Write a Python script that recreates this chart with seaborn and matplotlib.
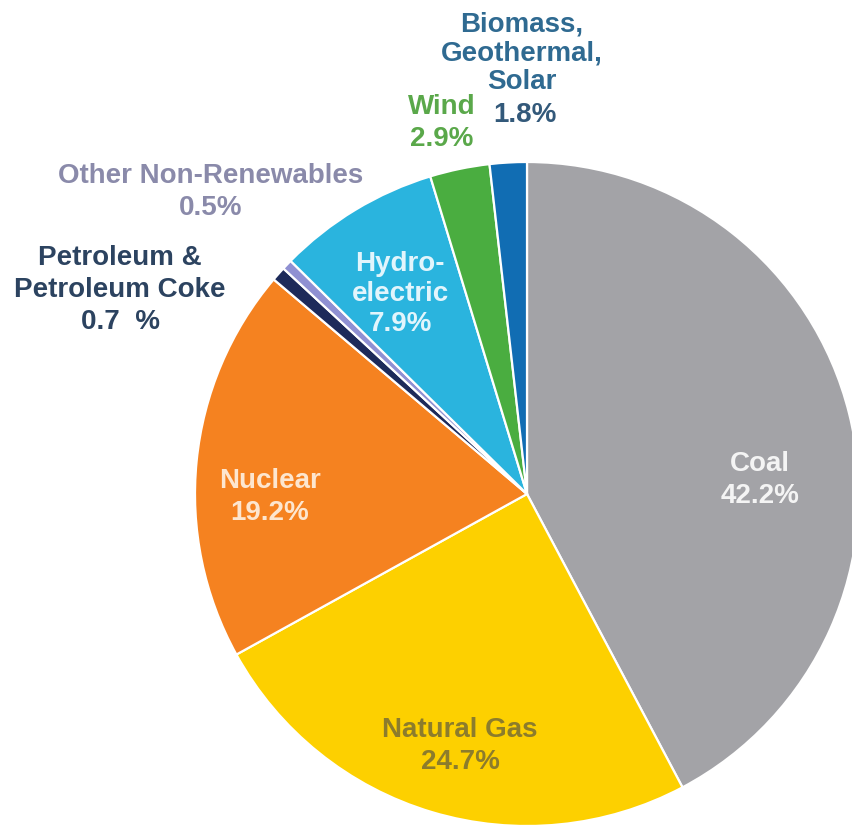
import matplotlib
matplotlib.use("Agg")
import matplotlib.pyplot as plt
import seaborn as sns

# ---- data ----
sources = ["Coal", "Natural Gas", "Nuclear", "Petroleum & Petroleum Coke",
           "Other Non-Renewables", "Hydroelectric", "Wind",
           "Biomass, Geothermal, Solar"]
shares = [42.2, 24.7, 19.2, 0.7, 0.5, 7.9, 2.9, 1.8]
label_texts = ["Coal\n42.2%", "Natural Gas\n24.7%", "Nuclear\n19.2%",
               "Petroleum &\nPetroleum Coke\n0.7  %", "Other Non-Renewables\n0.5%",
               "Hydro-\nelectric\n7.9%", "Wind\n2.9%", "Biomass,\nGeothermal,\nSolar"]
extra_label = "1.8%"

# ---- style ----
wedge_colors = ["#a3a3a7", "#fdd000", "#f58220", "#1d2a5a",
                "#8f90d2", "#2ab4de", "#4aad40", "#116db3"]
text_colors = ["#f4f4f4", "#8c7c2c", "#fde6cf", "#2c4360",
               "#8a8aaa", "#e2f5fc", "#5aa84a", "#2f6a91"]
# label centres in pixel coordinates from the top-left (x, y of block centre)
label_pos = [(760, 480), (460, 746), (270, 497), (120, 290),
             (211, 192), (400, 294), (442, 123), (522, 53)]
extra_pos = (525, 115)
spacings = [1.3, 1.3, 1.3, 1.32, 1.3, 1.2, 1.3, 1.15]

W, H = 852, 829
sns.set_theme(style="white")
plt.rcParams['font.family'] = ['Liberation Sans', 'DejaVu Sans']

fig = plt.figure(figsize=(W / 100, H / 100), dpi=100)
ax = fig.add_axes([0, 0, 1, 1])

ax.pie(shares, colors=wedge_colors, startangle=90, counterclock=False,
       center=(527, H - 495), radius=332,
       wedgeprops=dict(edgecolor="white", linewidth=1.6))
ax.set_xlim(0, W)
ax.set_ylim(0, H)
ax.set_aspect("equal")
ax.axis("off")

FS = 20
for txt, (x, y), c, ls in zip(label_texts, label_pos, text_colors, spacings):
    ax.text(x, H - y, txt, ha="center", va="center", fontsize=FS,
            fontweight="bold", color=c, linespacing=ls)
ax.text(extra_pos[0], H - extra_pos[1], extra_label, ha="center", va="center",
        fontsize=FS, fontweight="bold", color="#33597a")

fig.savefig("out.png", dpi=100, facecolor="white")
